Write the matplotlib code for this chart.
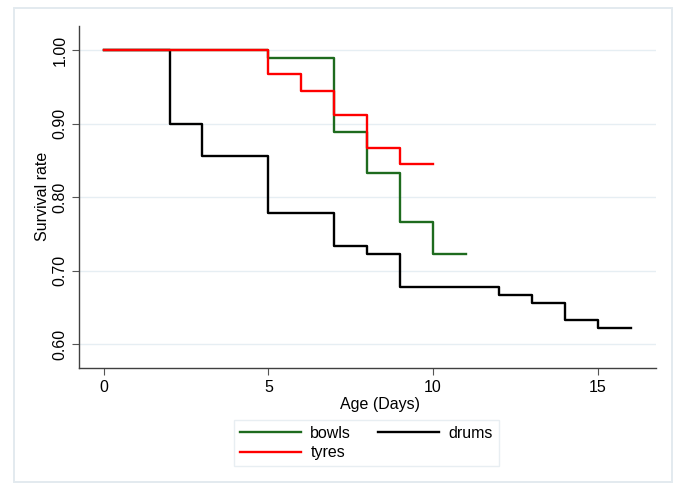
import matplotlib
matplotlib.use("Agg")
import matplotlib.pyplot as plt
from matplotlib.patches import Rectangle

plt.rcParams['font.family'] = ['Liberation Sans', 'DejaVu Sans']

# Data (Kaplan-Meier style step curves)
bowls_t = [0, 5, 7, 8, 9, 10, 11]
bowls_s = [1.0, 0.9889, 0.8889, 0.8333, 0.7667, 0.7222, 0.7222]
tyres_t = [0, 5, 6, 7, 8, 9, 10]
tyres_s = [1.0, 0.9667, 0.9444, 0.9111, 0.8667, 0.8444, 0.8444]
drums_t = [0, 2, 3, 5, 7, 8, 9, 12, 13, 14, 15, 16]
drums_s = [1.0, 0.9, 0.8556, 0.7778, 0.7333, 0.7222, 0.6778, 0.6667, 0.6556, 0.6333, 0.6222, 0.6222]

x_ticks = [0, 5, 10, 15]
y_ticks = [0.60, 0.70, 0.80, 0.90, 1.00]
y_labels = ["0.60", "0.70", "0.80", "0.90", "1.00"]

W, H = 678, 483
FS = 11.5
fig = plt.figure(figsize=(W / 100, H / 100), dpi=100)
fig.patches.append(Rectangle((14 / W, 1 - 482 / H), (672 - 14) / W, (482 - 8) / H,
                             transform=fig.transFigure, fill=False,
                             edgecolor='#e3eaef', linewidth=1.4))

ax = fig.add_axes([79.3 / W, 1 - 367.7 / H, (655.7 - 79.3) / W, (367.7 - 26) / H])
ax.set_xlim(-0.74, 16.76)
ax.set_ylim(0.568, 1.0326)

green = '#1e6b1e'
lw = 1.7
ax.step(drums_t, drums_s, where='post', color='black', lw=lw, label='drums')
ax.step(bowls_t, bowls_s, where='post', color=green, lw=lw, label='bowls')
ax.step(tyres_t, tyres_s, where='post', color='#ff0000', lw=lw, label='tyres')

for y in y_ticks:
    ax.axhline(y, color='#e6eef3', lw=1.0, zorder=0)

ax.set_xticks(x_ticks)
ax.set_yticks(y_ticks)
ax.set_yticklabels(y_labels, rotation=90, va='center')
ax.tick_params(labelsize=FS, length=5, color='#555555', width=0.8)
for s in ['top', 'right']:
    ax.spines[s].set_visible(False)
for s in ['left', 'bottom']:
    ax.spines[s].set_color('#404040')
    ax.spines[s].set_linewidth(1.0)

ax.set_xlabel('Age (Days)', fontsize=FS, labelpad=0)
ax.xaxis.set_label_coords((380 - 79.3) / (655.7 - 79.3), -0.085)
ax.set_ylabel('Survival rate', fontsize=FS, labelpad=2)

h, l = ax.get_legend_handles_labels()
d = dict(zip(l, h))
order = ['bowls', 'tyres', 'drums']
leg = fig.legend([d[k] for k in order], order, ncol=2, loc='center',
                 bbox_to_anchor=(366.5 / W, 1 - 443 / H), fontsize=FS,
                 handlelength=3.8, handletextpad=0.6, columnspacing=1.7,
                 labelspacing=0.3, frameon=True, fancybox=False,
                 borderpad=0.35)
leg.get_frame().set_edgecolor('#e3eaef')
leg.get_frame().set_linewidth(1.0)

fig.savefig('out.png', dpi=100)
